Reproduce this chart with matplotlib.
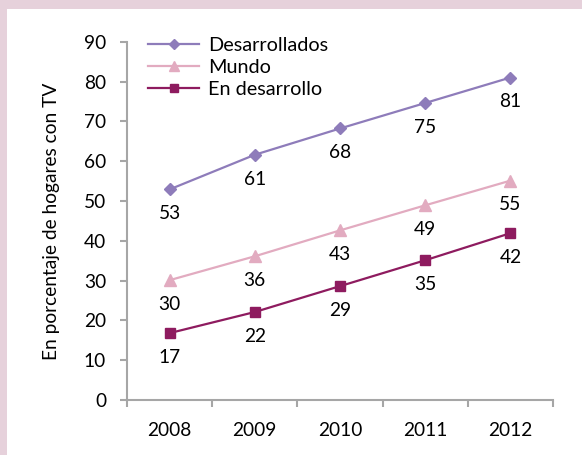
import matplotlib
matplotlib.use("Agg")
from matplotlib import pyplot as plt
from matplotlib.patches import Rectangle

years = ["2008", "2009", "2010", "2011", "2012"]
desarrollados = [52.9, 61.6, 68.2, 74.6, 81.0]
mundo = [30.1, 36.1, 42.6, 48.9, 55.1]
en_desarrollo = [16.8, 22.1, 28.6, 35.1, 41.9]
labels_desarrollados = ["53", "61", "68", "75", "81"]
labels_mundo = ["30", "36", "43", "49", "55"]
labels_en_desarrollo = ["17", "22", "29", "35", "42"]

plt.rcParams['font.family'] = ['Lato', 'DejaVu Sans']
fs = 13.8

fig = plt.figure(figsize=(5.82, 4.55), dpi=100)
fig.patch.set_facecolor('#E6D1DB')
fig.add_artist(Rectangle((7 / 582, 0), 1, (455 - 9) / 455,
                         transform=fig.transFigure, facecolor='white',
                         edgecolor='none', zorder=-10))

ax = fig.add_axes([127 / 582, 55 / 455, (553 - 127) / 582, (400 - 41.7) / 455])
ax.set_facecolor('none')

x = list(range(len(years)))
series = [
    ("Desarrollados", desarrollados, labels_desarrollados, '#8E7CBA', 'D', 6.5),
    ("Mundo", mundo, labels_mundo, '#E2ABC0', '^', 8.5),
    ("En desarrollo", en_desarrollo, labels_en_desarrollo, '#8E1B5F', 's', 7),
]
for name, vals, labs, color, marker, ms in series:
    ax.plot(x, vals, color=color, lw=1.6, marker=marker, markersize=ms,
            label=name)
    for xi, v, lab in zip(x, vals, labs):
        ax.annotate(lab, (xi, v), xytext=(0, -17.5), textcoords='offset points',
                    ha='center', va='center', fontsize=fs, color='black')

ax.set_xlim(-0.5, 4.5)
ax.set_ylim(0, 90)
ax.set_yticks(range(0, 91, 10))
ax.set_xticks([i - 0.5 for i in range(len(years) + 1)])
ax.set_xticklabels([])
ax.set_xticks(x, minor=True)
ax.set_xticklabels(years, minor=True)
ax.tick_params(axis='x', which='minor', length=0, pad=16, labelsize=fs)
ax.tick_params(axis='x', which='major', length=5, color='#A6A6A6', width=1.5)
ax.tick_params(axis='y', length=5, color='#A6A6A6', width=1.5, labelsize=fs,
               pad=10)

for side in ('top', 'right'):
    ax.spines[side].set_visible(False)
for side in ('left', 'bottom'):
    ax.spines[side].set_color('#A6A6A6')
    ax.spines[side].set_linewidth(1.5)

ax.set_ylabel("En porcentaje de hogares con TV", fontsize=fs, labelpad=17)

ax.legend(loc='upper left', bbox_to_anchor=(0.03, 1.035), frameon=False,
          fontsize=fs + 0.5, handlelength=2.6, handletextpad=0.45,
          labelspacing=0.24, borderaxespad=0, markerscale=0.8)

fig.savefig("out.png", dpi=100, facecolor=fig.get_facecolor())
